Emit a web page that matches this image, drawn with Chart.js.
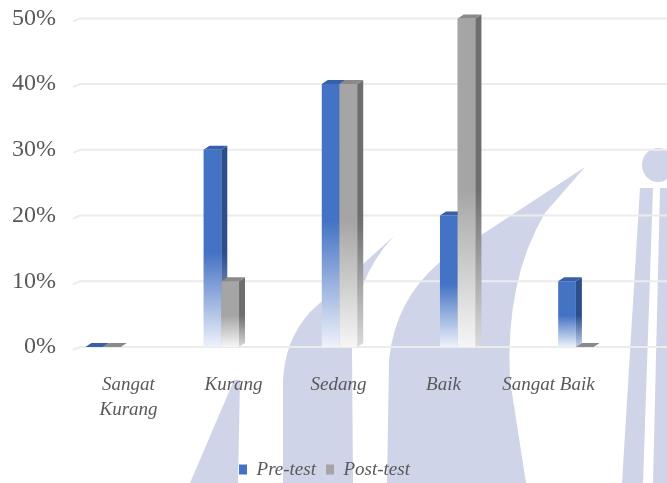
<!DOCTYPE html>
<html>
<head>
<meta charset="utf-8">
<script src="https://cdn.jsdelivr.net/npm/chart.js@4.4.1/dist/chart.umd.min.js"></script>
<style>
  html, body { margin: 0; padding: 0; background: #ffffff; }
  #wrap { width: 667px; height: 483px; position: relative; }
</style>
</head>
<body>
<div id="wrap"><canvas id="levelChart"></canvas></div>
<script>
// categories and values (percent)
const categories = [['Sangat', 'Kurang'], 'Kurang', 'Sedang', 'Baik', 'Sangat Baik'];
const preTest = [0, 30, 40, 20, 10];
const postTest = [0, 10, 40, 50, 0];
const yTicks = [0, 10, 20, 30, 40, 50];

const textGray = '#595959';
const depthX = 6;
const depthY = 4;
// 3D look: bars stand a little wider than the plot box, labels sit on the narrower floor edge
const barInset = { left: -16, right: 6 };
const labelInset = { left: 16, right: 40 };

// front face: solid colour over the top half, fading to white near the floor
function fadeFill(top, bottom) {
  return function (ctx) {
    const chart = ctx.chart;
    if (ctx.type !== 'data' || !chart.chartArea) return top;
    const y = chart.scales.y;
    const y0 = y.getPixelForValue(ctx.raw);
    const y1 = y.getPixelForValue(0);
    if (y1 - y0 < 2) return top;
    const g = chart.ctx.createLinearGradient(0, y0, 0, y1);
    g.addColorStop(0, top);
    g.addColorStop(0.52, top);
    g.addColorStop(1, bottom);
    return g;
  };
}

// watermark behind the chart
const watermark = {
  id: 'watermark',
  beforeDraw(chart) {
    const c = chart.ctx;
    c.save();
    c.fillStyle = '#d0d4e9';
    // sail
    c.beginPath();
    c.moveTo(190, 483); c.lineTo(234, 380); c.lineTo(240, 380); c.lineTo(238, 483);
    c.closePath(); c.fill();
    // left crescent
    c.beginPath();
    c.moveTo(283, 483); c.lineTo(283, 380);
    c.quadraticCurveTo(285, 340, 310, 312);
    c.lineTo(394, 236);
    c.quadraticCurveTo(352, 280, 352, 350);
    c.lineTo(353, 483);
    c.closePath(); c.fill();
    // right crescent
    c.beginPath();
    c.moveTo(387, 483); c.lineTo(389, 360);
    c.quadraticCurveTo(395, 300, 440, 262);
    c.lineTo(585, 167);
    c.lineTo(545, 213);
    c.quadraticCurveTo(505, 280, 510, 380);
    c.lineTo(526, 483);
    c.closePath(); c.fill();
    // stripes and head on the right
    c.beginPath();
    c.moveTo(640, 188); c.lineTo(653, 188); c.lineTo(643, 483); c.lineTo(622, 483);
    c.closePath(); c.fill();
    c.beginPath();
    c.moveTo(660, 188); c.lineTo(667, 188); c.lineTo(667, 483); c.lineTo(653, 483);
    c.closePath(); c.fill();
    c.beginPath();
    c.ellipse(658, 165, 16, 17, 0, 0, Math.PI * 2);
    c.fill();
    c.restore();
  }
};

// back-wall gridlines, a bit to the right of the floor edge
const backGrid = {
  id: 'backGrid',
  beforeDatasetsDraw(chart) {
    const c = chart.ctx;
    const y = chart.scales.y;
    const left = chart.chartArea.left;
    c.save();
    c.strokeStyle = '#ececec';
    c.lineWidth = 2;
    y.ticks.forEach(t => {
      const py = y.getPixelForValue(t.value);
      c.beginPath();
      c.moveTo(left + 13, py + 3);
      c.lineTo(left + 20, py);
      c.lineTo(chart.width, py);
      c.stroke();
    });
    c.restore();
  }
};

function setSpan(s, inset) {
  s._startPixel = s.left + inset.left;
  s._endPixel = s.right - inset.right;
  s._length = s._endPixel - s._startPixel;
  s._labelItems = null;
}

const spans = {
  id: 'spans',
  afterLayout(chart) {
    setSpan(chart.scales.x, barInset);
    setSpan(chart.scales.xLabels, labelInset);
  }
};

// side and top faces of each bar
function drawDepth(c, bar, sideTop, sideBottom, topColor) {
  const right = bar.x + bar.width / 2;
  const left = bar.x - bar.width / 2;
  const top = bar.y;
  const base = bar.base;
  if (base - top > 1) {
    const g = c.createLinearGradient(0, top, 0, base);
    g.addColorStop(0, sideTop);
    g.addColorStop(0.52, sideTop);
    g.addColorStop(1, sideBottom);
    c.fillStyle = g;
    c.beginPath();
    c.moveTo(right, top);
    c.lineTo(right + depthX, top - depthY);
    c.lineTo(right + depthX, base - depthY);
    c.lineTo(right, base);
    c.closePath();
    c.fill();
  }
  c.fillStyle = topColor;
  c.beginPath();
  c.moveTo(left, top);
  c.lineTo(left + depthX, top - depthY);
  c.lineTo(right + depthX, top - depthY);
  c.lineTo(right, top);
  c.closePath();
  c.fill();
}

const depthBars = {
  id: 'depthBars',
  afterDatasetsDraw(chart) {
    const c = chart.ctx;
    const pre = chart.getDatasetMeta(0);
    const post = chart.getDatasetMeta(1);
    c.save();
    pre.data.forEach(bar => drawDepth(c, bar, '#2c4f8c', '#c3d0ea', '#3760a8'));
    post.data.forEach(bar => {
      bar.draw(c);
      drawDepth(c, bar, '#6e6e6e', '#dadada', '#8a8a8a');
    });
    c.restore();
  }
};

const chart = new Chart(document.getElementById('levelChart'), {
  type: 'bar',
  data: {
    labels: categories,
    datasets: [
      {
        label: 'Pre-test',
        data: preTest,
        backgroundColor: fadeFill('#4472c4', '#eef2fa'),
        borderWidth: 0
      },
      {
        label: 'Post-test',
        data: postTest,
        backgroundColor: fadeFill('#a5a5a5', '#f6f6f6'),
        borderWidth: 0
      }
    ]
  },
  options: {
    responsive: true,
    maintainAspectRatio: false,
    animation: false,
    layout: { padding: { left: 8, right: 26, top: 18, bottom: -6 } },
    datasets: {
      bar: { categoryPercentage: 0.3, barPercentage: 1 }
    },
    scales: {
      x: {
        display: false
      },
      xLabels: {
        type: 'category',
        position: 'bottom',
        labels: categories,
        offset: true,
        grid: { display: false, drawTicks: false },
        border: { display: false },
        afterFit: scale => { scale.height = 103; },
        ticks: {
          padding: 26,
          color: textGray,
          maxRotation: 0,
          autoSkip: false,
          font: { family: 'Liberation Serif', size: 19, style: 'italic', lineHeight: 1.3 }
        }
      },
      y: {
        min: 0,
        max: 50,
        afterBuildTicks: scale => { scale.ticks = yTicks.map(v => ({ value: v })); },
        grid: { display: false, drawTicks: false },
        border: { display: false },
        ticks: {
          padding: 4,
          color: textGray,
          font: { family: 'Liberation Serif', size: 24 },
          callback: v => v + '%'
        }
      }
    },
    plugins: {
      legend: {
        position: 'bottom',
        labels: {
          boxWidth: 8,
          boxHeight: 10,
          padding: 10,
          color: textGray,
          font: { family: 'Liberation Serif', size: 19, style: 'italic' }
        }
      },
      tooltip: { enabled: false }
    }
  },
  plugins: [watermark, backGrid, spans, depthBars]
});
</script>
</body>
</html>
